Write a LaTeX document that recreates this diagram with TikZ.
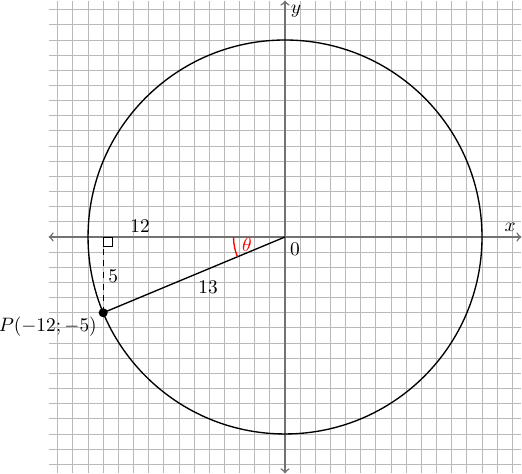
\documentclass[tikz,border=0pt]{standalone}
\usetikzlibrary{arrows}
\begin{document}
\begin{tikzpicture}[x=0.275cm,y=0.275cm,
  gridline/.style={gray!55,line width=0.45pt},
  axisline/.style={gray!90!black,line width=0.8pt,<->,>=to},
  curve/.style={black,line width=0.7pt},
  lbl/.style={inner sep=0pt}]
\useasboundingbox (-18.81,-15.64) rectangle (15.64,15.64);
\draw[gridline] (-15.6,-15.6) grid[step=1] (15.6,15.6);
\coordinate (xl) at (-15.6,0);
\coordinate (xr) at (15.6,0);
\coordinate (yb) at (0,-15.6);
\coordinate (yt) at (0,15.6);
\draw[axisline] (xl) -- (xr);
\draw[axisline] (yb) -- (yt);
\coordinate (O) at (0,0);
\coordinate (P) at (-12,-5);
\coordinate (F) at (-12,0);
\draw[curve] (O) circle[radius=13];
\draw[curve] (O) -- (P);
\draw[black,dashed,line width=0.5pt] (P) -- (F);
\draw[black,line width=0.4pt] (F) rectangle ++(0.6,-0.6);
\draw[red,line width=0.7pt] (-3.4,0) arc[start angle=180,end angle=202.62,radius=3.4];
\fill[black] (P) circle[radius=0.3];
\node[lbl] (l12) at (-9.57,0.73) {$12$};
\node[lbl] (l5) at (-11.33,-2.57) {$5$};
\node[lbl] (l13) at (-5.08,-3.3) {$13$};
\node[lbl] (l0) at (0.66,-0.79) {$0$};
\node[lbl] (lx) at (14.85,0.66) {$x$};
\node[lbl] (ly) at (0.73,14.92) {$y$};
\node[lbl,red] (lt) at (-2.51,-0.53) {$\theta$};
\node[lbl,anchor=east] (lp) at (-12.4,-5.94) {$P(-12;-5)$};
\end{tikzpicture}
\end{document}
